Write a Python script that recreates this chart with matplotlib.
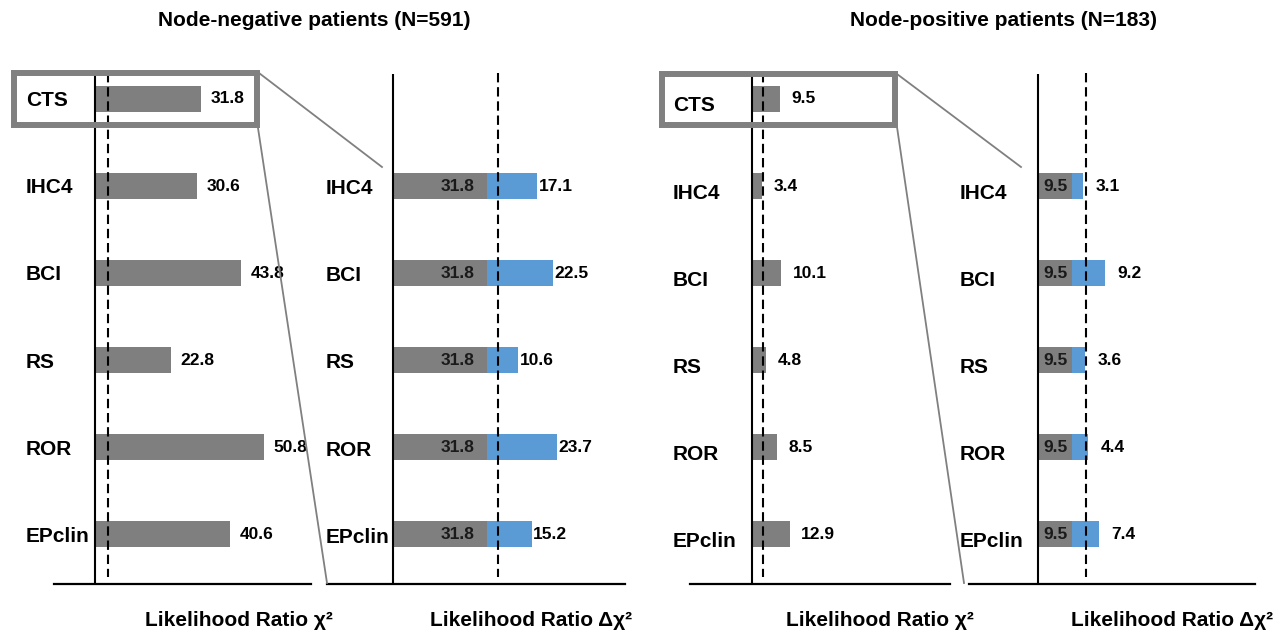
import matplotlib
matplotlib.use("Agg")
import matplotlib.pyplot as plt
from matplotlib.lines import Line2D
from matplotlib.patches import Rectangle

plt.rcParams['font.family'] = ['Liberation Sans', 'DejaVu Sans']
plt.rcParams['font.weight'] = 'bold'

# data
models = ['CTS', 'IHC4', 'BCI', 'RS', 'ROR', 'EPclin']
neg_lr = [31.8, 30.6, 43.8, 22.8, 50.8, 40.6]      # LR chi2, node-negative
neg_delta = [17.1, 22.5, 10.6, 23.7, 15.2]         # delta chi2 over CTS
pos_lr = [9.5, 3.4, 10.1, 4.8, 8.5, 12.9]          # LR chi2, node-positive
pos_delta = [3.1, 9.2, 3.6, 4.4, 7.4]
crit = 3.84

titles = ['Node-negative patients (N=591)', 'Node-positive patients (N=183)']
xlabel_lr = 'Likelihood Ratio χ²'
xlabel_delta = 'Likelihood Ratio Δχ²'

GRAY = '#7f7f7f'
BLUE = '#5b9bd5'
W, H = 1285, 640

fig = plt.figure(figsize=(W / 100, H / 100), dpi=100)

def fx(px):
    return px / W

def fy(py):
    return 1 - py / H

# rows: pixel centre of row 0 and spacing
row0, rowstep = 99, 87.1
ytop, ybot = 74, 584

def to_row(py):
    return (py - row0) / rowstep

def make_ax(left, right, x0, scale):
    ax = fig.add_axes([fx(left), fy(ybot), (right - left) / W, (ybot - ytop) / H])
    ax.set_xlim((left - x0) / scale, (right - x0) / scale)
    ax.set_ylim(to_row(ybot), to_row(ytop))
    ax.set_xticks([])
    ax.set_yticks([])
    for s in ['top', 'right', 'left']:
        ax.spines[s].set_visible(False)
    ax.spines['bottom'].set_linewidth(1.6)
    ax.spines['bottom'].set_color('black')
    ax.patch.set_alpha(0)
    ax.axvline(0, color='black', lw=1.5, zorder=4)
    return ax

def dashed(ax, x):
    ax.plot([x, x], [to_row(73), to_row(577)], color='black', lw=1.5,
            dashes=(4.5, 2.3), zorder=5, clip_on=False)

def cat_labels(ax, rows, x0, scale, lx, dy):
    for i in rows:
        ax.text((lx - x0) / scale, i + dy, models[i], fontsize=15, fontweight='bold',
                ha='left', va='center', clip_on=False)

bh = 26 / rowstep
vfs = 12.5

# panel 1: node-negative LR chi2
x0, sc = 95, 3.33
ax1 = make_ax(54, 311, x0, sc)
rows = list(range(len(models)))
ax1.barh(rows, neg_lr, height=bh, color=GRAY, zorder=3)
for i, v in enumerate(neg_lr):
    ax1.annotate(f'{v:.1f}', (v, i), xytext=(7, 0), textcoords='offset points',
                 fontsize=vfs, fontweight='bold', va='center', ha='left')
dashed(ax1, crit)
cat_labels(ax1, rows, x0, sc, 26, 0.02)

# panel 2: node-negative delta chi2 over CTS
x0, sc = 393, 2.95
ax2 = make_ax(327, 625, x0, sc)
rows2 = list(range(1, len(models)))
base = [neg_lr[0]] * len(rows2)
ax2.barh(rows2, base, height=bh, color=GRAY, zorder=3)
ax2.barh(rows2, neg_delta, left=base, height=bh, color=BLUE, zorder=3)
for r, b, d in zip(rows2, base, neg_delta):
    ax2.annotate(f'{b:.1f}', (b, r), xytext=(-9, 0), textcoords='offset points',
                 fontsize=vfs, fontweight='bold', va='center', ha='right', color='#1a1a1a',
                 zorder=6)
    ax2.annotate(f'{d:.1f}', (b + d, r), xytext=(1, 0), textcoords='offset points',
                 fontsize=vfs, fontweight='bold', va='center', ha='left', zorder=6)
dashed(ax2, neg_lr[0] + crit)
cat_labels(ax2, rows2, x0, sc, 326, 0.03)

# panel 3: node-positive LR chi2
x0, sc = 751.5, 2.95
ax3 = make_ax(690, 950, x0, sc)
ax3.barh(rows, pos_lr, height=bh, color=GRAY, zorder=3)
for i, v in enumerate(pos_lr):
    ax3.annotate(f'{v:.1f}', (v, i), xytext=(8.5, 0), textcoords='offset points',
                 fontsize=vfs, fontweight='bold', va='center', ha='left')
dashed(ax3, crit)
cat_labels(ax3, rows, x0, sc, 673, 0.08)

# panel 4: node-positive delta chi2 over CTS
x0, sc = 1038, 3.6
ax4 = make_ax(969, 1255, x0, sc)
base = [pos_lr[0]] * len(rows2)
ax4.barh(rows2, base, height=bh, color=GRAY, zorder=3)
ax4.barh(rows2, pos_delta, left=base, height=bh, color=BLUE, zorder=3)
for r, b, d in zip(rows2, base, pos_delta):
    ax4.annotate(f'{b:.1f}', (b, r), xytext=(-3, 0), textcoords='offset points',
                 fontsize=vfs, fontweight='bold', va='center', ha='right', color='#1a1a1a',
                 zorder=6)
    ax4.annotate(f'{d:.1f}', (b + d, r), xytext=(9, 0), textcoords='offset points',
                 fontsize=vfs, fontweight='bold', va='center', ha='left', zorder=6)
dashed(ax4, pos_lr[0] + crit)
cat_labels(ax4, rows2, x0, sc, 960, 0.08)

# highlight boxes around CTS and connector lines
box_c = '#808080'
for (l, r, t, b) in [(14, 257, 73, 125), (662, 895, 74, 125)]:
    fig.add_artist(Rectangle((fx(l), fy(b)), (r - l) / W, (b - t) / H, fill=False,
                             edgecolor=box_c, lw=4.3, transform=fig.transFigure, zorder=10))
for (xa, ya, xb, yb) in [(259, 73, 382, 167), (258, 128, 327, 583),
                         (897, 74, 1021, 167), (897, 127, 964, 583)]:
    fig.add_artist(Line2D([fx(xa), fx(xb)], [fy(ya), fy(yb)], color=box_c, lw=1.3,
                          transform=fig.transFigure, zorder=9))

# titles and axis labels
fig.text(fx(314), fy(20), titles[0], fontsize=15, fontweight='bold', ha='center', va='center')
fig.text(fx(1003), fy(20), titles[1], fontsize=15, fontweight='bold', ha='center', va='center')
for cx, lab in [(239, xlabel_lr), (531, xlabel_delta), (880, xlabel_lr), (1172, xlabel_delta)]:
    fig.text(fx(cx), fy(621), lab, fontsize=15, fontweight='bold', ha='center', va='center')

fig.savefig('out.png', dpi=100)
